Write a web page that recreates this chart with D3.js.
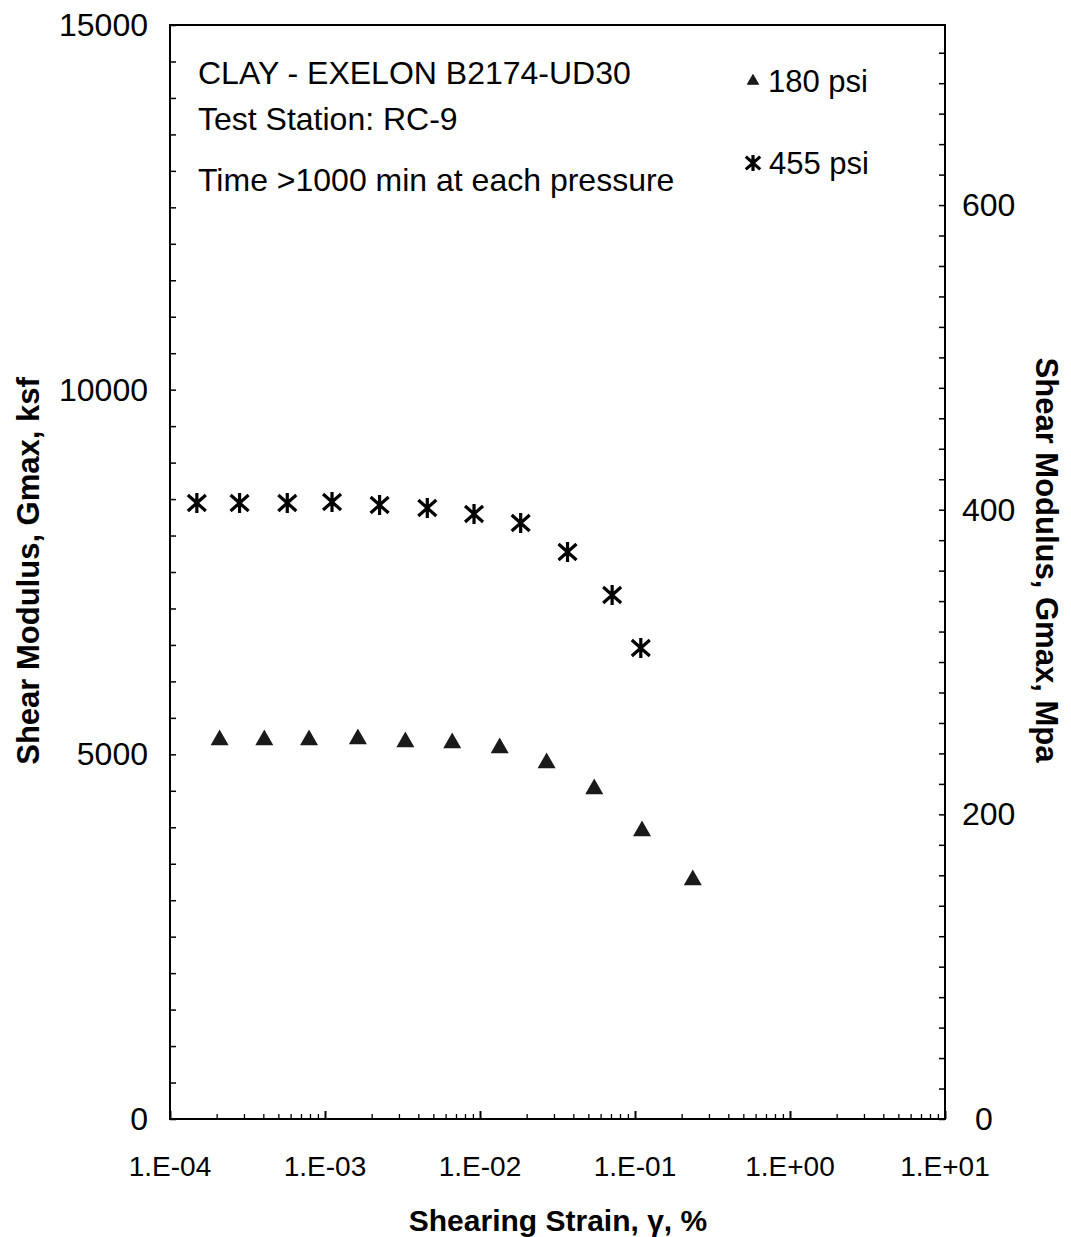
<!DOCTYPE html>
<html>
<head>
<meta charset="utf-8">
<script src="https://cdn.jsdelivr.net/npm/d3@7"></script>
<style>
  body { margin: 0; background: #fff; }
  svg text { font-family: "Liberation Sans", Arial, sans-serif; fill: #000; }
</style>
</head>
<body>
<svg id="chart" width="1071" height="1237"></svg>
<script>
// strain (%) and Gmax (ksf)
const strain180 = [2.09e-4, 4.06e-4, 7.89e-4, 1.63e-3, 3.30e-3, 6.62e-3, 1.34e-2, 2.69e-2, 5.46e-2, 0.111, 0.236];
const gmax180 = [5197, 5197, 5197, 5210, 5169, 5156, 5087, 4881, 4525, 3949, 3277];
const strain455 = [1.49e-4, 2.81e-4, 5.71e-4, 1.11e-3, 2.25e-3, 4.57e-3, 9.15e-3, 1.83e-2, 3.67e-2, 7.12e-2, 0.109];
const gmax455 = [8446, 8446, 8446, 8460, 8419, 8378, 8296, 8172, 7775, 7185, 6458];
const xTickLabels = ["1.E-04", "1.E-03", "1.E-02", "1.E-01", "1.E+00", "1.E+01"];
const leftTicks = [0, 5000, 10000, 15000];
const rightTicks = [0, 200, 400, 600];
const noteLines = ["CLAY - EXELON B2174-UD30", "Test Station: RC-9", "Time >1000 min at each pressure"];
const legendLabels = ["180 psi", "455 psi"];

const KSF_TO_MPA = 0.04788;

const svg = d3.select("#chart");
const plotL = 170, plotR = 945, plotT = 25, plotB = 1119;

const x = d3.scaleLog().domain([1e-4, 10]).range([plotL, plotR]);
const y = d3.scaleLinear().domain([0, 15000]).range([plotB, plotT]);
const y2 = d3.scaleLinear().domain([0, 15000 * KSF_TO_MPA]).range([plotB, plotT]);

// frame
svg.append("rect")
    .attr("x", plotL).attr("y", plotT)
    .attr("width", plotR - plotL).attr("height", plotB - plotT)
    .attr("fill", "none").attr("stroke", "#000").attr("stroke-width", 2);

// x axis: minor ticks 2..9 per decade, major at decades
let xMinor = [];
for (let e = -4; e < 1; e++) {
    for (let m = 2; m <= 9; m++) xMinor.push(m * Math.pow(10, e));
}
svg.append("g").attr("transform", "translate(0," + plotB + ")")
    .call(d3.axisTop(x).tickValues(xMinor).tickSize(5).tickFormat(""))
    .call(g => g.select(".domain").remove())
    .selectAll("line").attr("stroke-width", 1.3);

const xMajor = xTickLabels.map(d => +d.replace("E", "e"));
svg.append("g").attr("transform", "translate(0," + plotB + ")")
    .call(d3.axisTop(x).tickValues(xMajor).tickSize(8).tickFormat(""))
    .call(g => g.select(".domain").remove())
    .selectAll("line").attr("stroke-width", 2);

svg.append("g").selectAll("text")
    .data(xMajor)
    .join("text")
    .attr("x", d => x(d))
    .attr("y", 1176)
    .attr("text-anchor", "middle")
    .attr("font-size", 28)
    .text((d, i) => xTickLabels[i]);

// left axis: ticks every 500 ksf
svg.append("g").attr("transform", "translate(" + plotL + ",0)")
    .call(d3.axisRight(y).tickValues(d3.range(0, 15001, 500)).tickSize(6).tickFormat(""))
    .call(g => g.select(".domain").remove())
    .selectAll("line").attr("stroke-width", 1.5);

svg.append("g").selectAll("text")
    .data(leftTicks)
    .join("text")
    .attr("x", 148)
    .attr("y", d => y(d) + 11)
    .attr("text-anchor", "end")
    .attr("font-size", 32)
    .text(d => d);

// right axis: ticks every 20 MPa
svg.append("g").attr("transform", "translate(" + plotR + ",0)")
    .call(d3.axisLeft(y2).tickValues(d3.range(0, 701, 20)).tickSize(6).tickFormat(""))
    .call(g => g.select(".domain").remove())
    .selectAll("line").attr("stroke-width", 1.5);

svg.append("g").selectAll("text")
    .data(rightTicks)
    .join("text")
    .attr("x", d => d === 0 ? 975 : 962)
    .attr("y", d => y2(d) + 11)
    .attr("font-size", 32)
    .text(d => d);

// axis titles
svg.append("text")
    .attr("x", 558).attr("y", 1231)
    .attr("text-anchor", "middle")
    .attr("font-size", 30).attr("font-weight", "bold")
    .text("Shearing Strain, γ, %");

svg.append("text")
    .attr("transform", "translate(39,571) rotate(-90)")
    .attr("text-anchor", "middle")
    .attr("font-size", 31).attr("font-weight", "bold")
    .text("Shear Modulus, Gmax, ksf");

svg.append("text")
    .attr("transform", "translate(1036,560) rotate(90)")
    .attr("text-anchor", "middle")
    .attr("font-size", 31).attr("font-weight", "bold")
    .text("Shear Modulus, Gmax, Mpa");

// notes
svg.append("g").selectAll("text")
    .data(noteLines)
    .join("text")
    .attr("x", 198)
    .attr("y", (d, i) => [84, 130, 191][i])
    .attr("font-size", 32)
    .text(d => d);

// markers
const triPath = d3.symbol().type(d3.symbolTriangle).size(110);
const drawTri = (sel) => sel.append("path")
    .attr("d", triPath)
    .attr("fill", "#1a1a1a")
    .attr("stroke", "#1a1a1a").attr("stroke-width", 1.2);

const drawStar = (sel, r) => {
    const dx = r * 0.9, dy = r * 0.8;
    sel.append("path")
        .attr("d", "M0," + (-r) + "L0," + r +
            "M" + (-dx) + "," + (-dy) + "L" + dx + "," + dy +
            "M" + (-dx) + "," + dy + "L" + dx + "," + (-dy))
        .attr("stroke", "#000").attr("stroke-width", 3.2).attr("fill", "none");
};

const pts180 = strain180.map((s, i) => [s, gmax180[i]]);
const pts455 = strain455.map((s, i) => [s, gmax455[i]]);

svg.append("g").selectAll("g")
    .data(pts180)
    .join("g")
    .attr("transform", d => "translate(" + x(d[0]) + "," + y(d[1]) + ")")
    .each(function() { drawTri(d3.select(this)); });

svg.append("g").selectAll("g")
    .data(pts455)
    .join("g")
    .attr("transform", d => "translate(" + x(d[0]) + "," + y(d[1]) + ")")
    .each(function() { drawStar(d3.select(this), 10); });

// legend
const lg1 = svg.append("g").attr("transform", "translate(753,81)");
lg1.append("path").attr("d", d3.symbol().type(d3.symbolTriangle).size(55))
    .attr("fill", "#1a1a1a").attr("stroke", "#1a1a1a").attr("stroke-width", 1);
svg.append("text").attr("x", 768).attr("y", 92).attr("font-size", 31).text(legendLabels[0]);

const lg2 = svg.append("g").attr("transform", "translate(753,163)");
drawStar(lg2, 8);
svg.append("text").attr("x", 769).attr("y", 174).attr("font-size", 31).text(legendLabels[1]);
</script>
</body>
</html>
